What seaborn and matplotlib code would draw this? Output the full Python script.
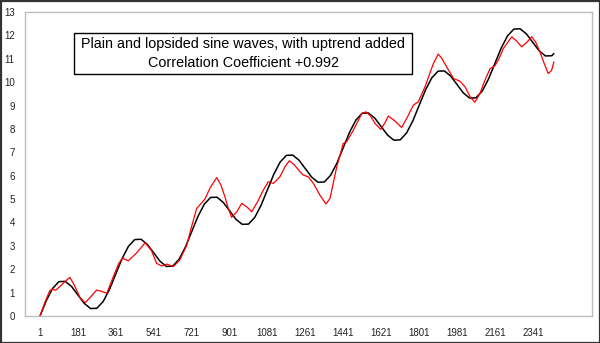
import matplotlib
matplotlib.use("Agg")
import matplotlib.pyplot as plt
import seaborn as sns
import pandas as pd
from matplotlib.patches import Rectangle

# ---- data ----
plain_x = [1 + 30 * k for k in range(82)] + [2441]
plain_y = [0.00, 0.66, 1.18, 1.47, 1.48, 1.26, 0.90, 0.54, 0.32, 0.33, 0.62, 1.14,
           1.80, 2.46, 2.98, 3.27, 3.28, 3.06, 2.70, 2.34, 2.12, 2.13, 2.42, 2.94,
           3.60, 4.26, 4.78, 5.07, 5.08, 4.86, 4.50, 4.14, 3.92, 3.93, 4.22, 4.74,
           5.40, 6.06, 6.58, 6.87, 6.88, 6.66, 6.30, 5.94, 5.72, 5.73, 6.02, 6.54,
           7.20, 7.86, 8.38, 8.67, 8.68, 8.46, 8.10, 7.74, 7.52, 7.53, 7.82, 8.34,
           9.00, 9.66, 10.18, 10.47, 10.48, 10.26, 9.90, 9.54, 9.32, 9.33, 9.62, 10.14,
           10.80, 11.46, 11.98, 12.27, 12.28, 12.06, 11.70, 11.34, 11.12, 11.13, 11.22]

lop_x = [1, 25, 48, 60, 75, 100, 125, 143, 165, 190, 215, 240, 270, 295, 318, 350, 375,
         392, 420, 460, 500, 530, 555, 579, 603, 634, 665, 698, 720, 745, 784, 810, 840,
         860, 879, 895, 911, 935, 959, 985, 1006, 1035, 1061, 1085, 1109, 1140, 1164,
         1185, 1210, 1235, 1251, 1275, 1299, 1330, 1359, 1378, 1410, 1441, 1457, 1489,
         1529, 1549, 1570, 1592, 1619, 1638, 1655, 1685, 1718, 1745, 1774, 1797, 1829,
         1869, 1892, 1910, 1932, 1964, 1995, 2019, 2045, 2066, 2090, 2114, 2138, 2161,
         2180, 2201, 2241, 2265, 2288, 2312, 2336, 2355, 2375, 2395, 2414, 2430, 2441]
lop_y = [0.0, 0.6, 1.1, 1.14, 1.1, 1.3, 1.52, 1.65, 1.3, 0.8, 0.57, 0.8, 1.11, 1.05, 0.97,
         1.7, 2.25, 2.47, 2.36, 2.7, 3.13, 2.8, 2.25, 2.14, 2.22, 2.11, 2.4, 3.03, 3.8, 4.6,
         5.0, 5.5, 5.92, 5.6, 5.1, 4.6, 4.22, 4.45, 4.82, 4.65, 4.46, 4.9, 5.38, 5.74,
         5.67, 5.95, 6.38, 6.64, 6.45, 6.17, 6.03, 5.95, 5.67, 5.17, 4.79, 5.03, 6.38,
         7.38, 7.45, 7.95, 8.66, 8.73, 8.55, 8.23, 7.98, 8.25, 8.55, 8.35, 8.06, 8.5,
         9.02, 9.16, 9.8, 10.8, 11.2, 11.0, 10.65, 10.16, 10.04, 9.8, 9.35, 9.14, 9.52,
         10.09, 10.58, 10.7, 11.0, 11.44, 11.94, 11.75, 11.51, 11.7, 11.94, 11.7, 11.29,
         10.8, 10.37, 10.5, 10.87]

x_ticks = [1, 181, 361, 541, 721, 901, 1081, 1261, 1441, 1621, 1801, 1981, 2161, 2341]
y_ticks = list(range(0, 14))
title_lines = ["Plain and lopsided sine waves, with uptrend added",
               "Correlation Coefficient +0.992"]

# ---- styling ----
sns.set_style("white")
plt.rcParams["font.family"] = ["Liberation Sans", "DejaVu Sans"]

fig = plt.figure(figsize=(6.0, 3.43), dpi=100)
fig.patch.set_facecolor("white")
ax = fig.add_axes([24.5 / 600, 1 - 316 / 343, (592 - 24.5) / 600, (316 - 12) / 343])

df_plain = pd.DataFrame({"x": plain_x, "y": plain_y})
df_lop = pd.DataFrame({"x": lop_x, "y": lop_y})
sns.lineplot(data=df_plain, x="x", y="y", ax=ax, color="black", linewidth=1.1,
             estimator=None, sort=False)
sns.lineplot(data=df_lop, x="x", y="y", ax=ax, color="#ff0000", linewidth=0.9,
             estimator=None, sort=False)

ax.set_xlim(-72.6, 2622)
ax.set_ylim(0, 13)
ax.set_xticks(x_ticks)
ax.set_xticklabels([str(t) for t in x_ticks])
ax.set_yticks(y_ticks)
ax.set_xlabel("")
ax.set_ylabel("")
ax.tick_params(axis="both", length=0, labelsize=7, colors="#222222")
ax.tick_params(axis="x", pad=9)
ax.tick_params(axis="y", pad=7)
for s in ax.spines.values():
    s.set_visible(True)
    s.set_color("#bdbdbd")
    s.set_linewidth(1.0)
ax.grid(False)

# title box
bx0, by0, bx1, by1 = 74, 33, 412, 74
fig.patches.append(Rectangle((bx0 / 600, 1 - by1 / 343), (bx1 - bx0) / 600, (by1 - by0) / 343,
                             transform=fig.transFigure, facecolor="white",
                             edgecolor="black", linewidth=1.0, zorder=5))
cx = (bx0 + bx1) / 2 / 600
fig.text(cx, 1 - 44 / 343, title_lines[0], ha="center", va="center", fontsize=10.4,
         color="black", zorder=6)
fig.text(cx, 1 - 63 / 343, title_lines[1], ha="center", va="center", fontsize=10.4,
         color="black", zorder=6)

# outer chart border
fig.patches.append(Rectangle((0.5 / 600, 0.5 / 343), 599 / 600, 342 / 343,
                             transform=fig.transFigure, fill=False,
                             edgecolor="#333333", linewidth=1.6, zorder=10))

fig.savefig("out.png", dpi=100, facecolor="white")
